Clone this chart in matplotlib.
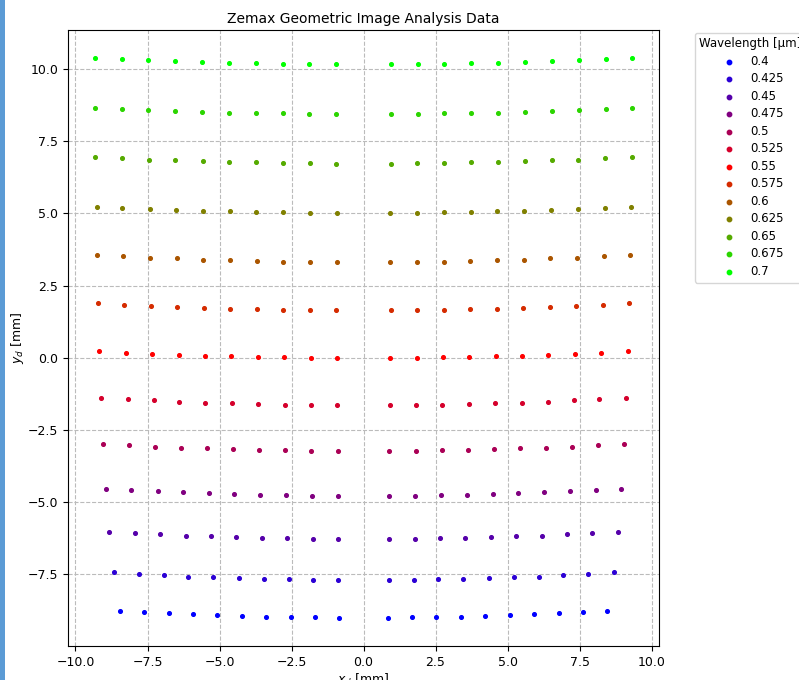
import matplotlib
matplotlib.use("Agg")
import matplotlib.pyplot as plt
import matplotlib.patches as patches

# wavelengths [um]
wavelengths = [0.4, 0.425, 0.45, 0.475, 0.5, 0.525, 0.55, 0.575, 0.6, 0.625, 0.65, 0.675, 0.7]

# left half of each row (x < 0); the right half is the mirror image
x_left = [
    [-8.46, -7.61, -6.77, -5.93, -5.08, -4.23, -3.38, -2.53, -1.69, -0.84],  # 0.4
    [-8.68, -7.80, -6.94, -6.08, -5.21, -4.34, -3.47, -2.60, -1.74, -0.87],  # 0.425
    [-8.82, -7.94, -7.06, -6.18, -5.30, -4.42, -3.53, -2.65, -1.77, -0.89],  # 0.45
    [-8.93, -8.06, -7.15, -6.26, -5.36, -4.48, -3.59, -2.68, -1.80, -0.90],  # 0.475
    [-9.04, -8.15, -7.23, -6.33, -5.43, -4.52, -3.62, -2.71, -1.81, -0.90],  # 0.5
    [-9.11, -8.19, -7.29, -6.39, -5.49, -4.56, -3.65, -2.74, -1.83, -0.91],  # 0.525
    [-9.17, -8.25, -7.35, -6.42, -5.51, -4.59, -3.67, -2.75, -1.84, -0.93],  # 0.55
    [-9.21, -8.30, -7.39, -6.46, -5.55, -4.62, -3.70, -2.78, -1.86, -0.94],  # 0.575
    [-9.25, -8.34, -7.41, -6.48, -5.57, -4.63, -3.70, -2.79, -1.86, -0.93],  # 0.6
    [-9.27, -8.37, -7.43, -6.50, -5.57, -4.65, -3.73, -2.79, -1.86, -0.93],  # 0.625
    [-9.31, -8.38, -7.45, -6.53, -5.59, -4.66, -3.73, -2.80, -1.86, -0.94],  # 0.65
    [-9.33, -8.40, -7.47, -6.53, -5.60, -4.66, -3.74, -2.80, -1.88, -0.94],  # 0.675
    [-9.33, -8.40, -7.47, -6.53, -5.60, -4.66, -3.74, -2.80, -1.88, -0.94],  # 0.7
]

y_left = [
    [-8.76, -8.81, -8.84, -8.88, -8.91, -8.94, -8.96, -8.98, -8.99, -9.01],  # 0.4
    [-7.43, -7.49, -7.52, -7.58, -7.60, -7.63, -7.65, -7.66, -7.69, -7.69],  # 0.425
    [-6.02, -6.08, -6.11, -6.16, -6.18, -6.22, -6.24, -6.25, -6.26, -6.27],  # 0.45
    [-4.53, -4.57, -4.62, -4.65, -4.69, -4.72, -4.74, -4.76, -4.77, -4.78],  # 0.475
    [-2.99, -3.03, -3.08, -3.11, -3.14, -3.17, -3.19, -3.21, -3.22, -3.22],  # 0.5
    [-1.39, -1.44, -1.48, -1.52, -1.55, -1.58, -1.60, -1.62, -1.63, -1.65],  # 0.525
    [0.23, 0.18, 0.14, 0.10, 0.07, 0.06, 0.03, 0.01, 0.00, -0.01],  # 0.55
    [1.88, 1.84, 1.79, 1.76, 1.72, 1.70, 1.68, 1.65, 1.65, 1.64],  # 0.575
    [3.55, 3.51, 3.47, 3.44, 3.40, 3.38, 3.35, 3.33, 3.32, 3.32],  # 0.6
    [5.23, 5.19, 5.16, 5.11, 5.09, 5.07, 5.05, 5.03, 5.02, 5.01],  # 0.625
    [6.94, 6.90, 6.86, 6.83, 6.81, 6.78, 6.76, 6.74, 6.74, 6.72],  # 0.65
    [8.66, 8.61, 8.58, 8.54, 8.52, 8.49, 8.47, 8.46, 8.45, 8.44],  # 0.675
    [10.38, 10.33, 10.30, 10.26, 10.23, 10.21, 10.19, 10.18, 10.17, 10.16],  # 0.7
]

# colours: blue -> red -> green
colors = ["#0000FF", "#2B00D5", "#5500AA", "#800080", "#AA0055", "#D5002B", "#FF0000",
          "#D52B00", "#AA5500", "#808000", "#55AA00", "#2BD500", "#00FF00"]

fig = plt.figure(figsize=(7.99, 6.80), dpi=100)
ax = fig.add_axes([0.085, 0.05, 0.740, 0.906])

for wl, xs, ys, c in zip(wavelengths, x_left, y_left, colors):
    xx = xs + [-v for v in xs]
    yy = ys + ys
    ax.scatter(xx, yy, s=7, color=c, label=str(wl), zorder=3)

ax.set_title("Zemax Geometric Image Analysis Data", fontsize=10, pad=5)
ax.set_xlabel("$x_d$ [mm]", fontsize=9, labelpad=2)
ax.set_ylabel("$y_d$ [mm]", fontsize=9, labelpad=1)
ax.tick_params(labelsize=9)
ax.grid(True, linestyle="--", color="#bbbbbb", linewidth=0.8)
ax.legend(title="Wavelength [µm]", bbox_to_anchor=(1.05, 1.005), loc="upper left",
          fontsize=8.5, title_fontsize=8.5, labelspacing=0.38, markerscale=1.2)

# blue bar at the left edge of the screenshot
fig.patches.append(patches.Rectangle((0, 0), 0.006, 1, transform=fig.transFigure,
                                     facecolor="#5B9BD5", edgecolor="none", zorder=10))

fig.savefig("out.png", dpi=100)
